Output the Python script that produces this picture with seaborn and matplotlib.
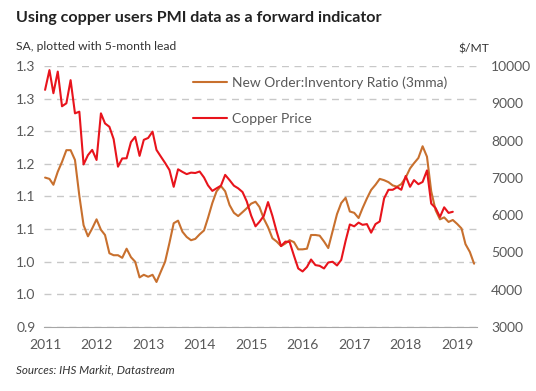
import pandas as pd
import matplotlib
matplotlib.use("Agg")
import matplotlib.pyplot as plt
import seaborn as sns

# new order : inventory ratio (3mma), plotted with 5-month lead, Jan 2011 - May 2019
ratio = [1.129, 1.127, 1.118, 1.138, 1.153, 1.171, 1.171, 1.156, 1.101, 1.056,
         1.039, 1.051, 1.065, 1.049, 1.041, 1.013, 1.010, 1.010, 1.006, 1.020,
         1.007, 1.000, 0.976, 0.980, 0.977, 0.980, 0.969, 0.985, 1.000, 1.029,
         1.059, 1.063, 1.046, 1.038, 1.033, 1.035, 1.042, 1.048, 1.067, 1.090,
         1.108, 1.116, 1.108, 1.087, 1.075, 1.070, 1.076, 1.082, 1.089, 1.092,
         1.084, 1.066, 1.053, 1.036, 1.031, 1.024, 1.028, 1.033, 1.030, 1.019,
         1.019, 1.020, 1.041, 1.041, 1.040, 1.031, 1.021, 1.047, 1.073, 1.090,
         1.098, 1.077, 1.075, 1.067, 1.082, 1.097, 1.110, 1.118, 1.127, 1.125,
         1.122, 1.117, 1.115, 1.119, 1.129, 1.143, 1.151, 1.159, 1.177, 1.161,
         1.108, 1.079, 1.065, 1.068, 1.061, 1.064, 1.058, 1.051, 1.027, 1.015,
         0.997]

# copper price, $/MT, Jan 2011 - Dec 2018
copper = [9360, 9890, 9270, 9850, 8920, 9000, 9620, 8730, 8775, 7360,
          7610, 7750, 7480, 8730, 8460, 8370, 8040, 7300, 7520, 7525,
          7960, 8100, 7590, 8020, 8070, 8240, 7750, 7570, 7400, 7210,
          6760, 7230, 7160, 7100, 7140, 7130, 7170, 7010, 6800, 6650,
          6720, 6790, 7080, 6940, 6790, 6720, 6620, 6370, 5990, 5700,
          5820, 5980, 6350, 5980, 5560, 5170, 5290, 5280, 4910, 4570,
          4490, 4610, 4810, 4660, 4640, 4570, 4730, 4750, 4650, 4800,
          5310, 5750, 5700, 5800, 5740, 5760, 5530, 5760, 5830, 6450,
          6680, 6680, 6750, 6680, 7050, 6760, 6940, 6830, 6890, 7200,
          6310, 6190, 5950, 6210, 6060, 6090]

ratio_label = "New Order:Inventory Ratio (3mma)"
copper_label = "Copper Price"
left_ticks = [0.90, 0.95, 1.00, 1.05, 1.10, 1.15, 1.20, 1.25, 1.30]
left_tick_labels = ["0.9", "1.0", "1.0", "1.1", "1.1", "1.2", "1.2", "1.3", "1.3"]
right_ticks = [3000, 4000, 5000, 6000, 7000, 8000, 9000, 10000]
years = list(range(2011, 2020))

df_ratio = pd.DataFrame({"date": pd.date_range("2011-01-01", periods=len(ratio), freq="MS"),
                         "value": ratio})
df_copper = pd.DataFrame({"date": pd.date_range("2011-01-01", periods=len(copper), freq="MS"),
                          "value": copper})

sns.set_style("white")
plt.rcParams["font.family"] = ["Lato", "DejaVu Sans"]
grey = "#595959"
orange = "#C8702E"
red = "#E8141C"

fig = plt.figure(figsize=(5.36, 3.91), dpi=100)
ax = fig.add_axes([0.082, 0.1637, 0.808, 0.6675])
ax2 = ax.twinx()

sns.lineplot(data=df_ratio, x="date", y="value", ax=ax, color=orange, lw=1.5, label=ratio_label, legend=False)
sns.lineplot(data=df_copper, x="date", y="value", ax=ax2, color=red, lw=1.5, label=copper_label, legend=False)

ax.set_xlim(pd.Timestamp("2010-12-24"), pd.Timestamp("2019-05-22"))
ax.set_ylim(0.9, 1.3)
ax2.set_ylim(3000, 10000)
ax.set_xticks([pd.Timestamp(f"{y}-01-01") for y in years])
ax.set_xticklabels([str(y) for y in years])
ax.set_yticks(left_ticks)
ax.set_yticklabels(left_tick_labels)
ax2.set_yticks(right_ticks)
ax.set_xlabel("")
ax.set_ylabel("")
ax2.set_ylabel("")

ax.yaxis.grid(True, color="#C8C8C8", ls=(0, (5, 4)), lw=1.0)
ax.set_axisbelow(True)
for a in (ax, ax2):
    for s in ("left", "right", "top"):
        a.spines[s].set_visible(False)
ax.spines["bottom"].set_color("#A6A6A6")
ax2.spines["bottom"].set_visible(False)
ax.tick_params(axis="x", colors="#A6A6A6", length=4, width=1, labelcolor=grey, labelsize=10, pad=5)
ax.tick_params(axis="y", length=0, labelcolor=grey, labelsize=10, pad=6)
ax2.tick_params(axis="y", length=0, labelcolor=grey, labelsize=10, pad=10)

h1, l1 = ax.get_legend_handles_labels()
h2, l2 = ax2.get_legend_handles_labels()
ax2.legend(h1 + h2, l1 + l2, loc="upper left", bbox_to_anchor=(0.316, 1.008), frameon=False,
           fontsize=10, labelcolor=grey, labelspacing=1.75, handlelength=2.4, handletextpad=0.4)

fig.text(0.03, 0.955, "Using copper users PMI data as a forward indicator",
         fontsize=11.6, fontweight="bold", color="#222222", va="center")
fig.text(0.03, 0.882, "SA, plotted with 5-month lead", fontsize=8.7, color="#333333", va="center")
fig.text(0.855, 0.875, "$/MT", fontsize=8.7, color="#333333", va="center")
fig.text(0.03, 0.054, "Sources: IHS Markit, Datastream", fontsize=8.4, style="italic",
         color="#333333", va="center")

fig.savefig("out.png", dpi=100)
